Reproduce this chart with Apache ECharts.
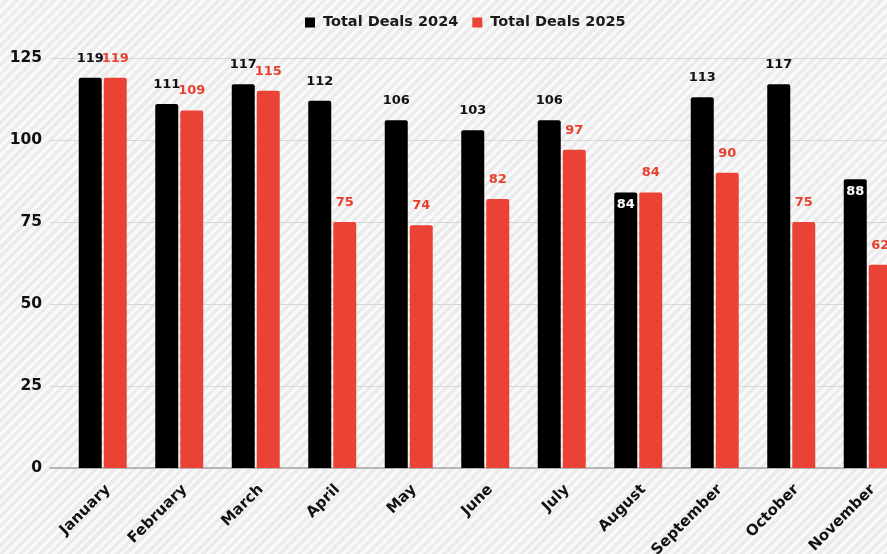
<!DOCTYPE html>
<html>
<head>
<meta charset="utf-8">
<script src="https://cdn.jsdelivr.net/npm/echarts@6/dist/echarts.min.js"></script>
<style>
  html, body { margin: 0; padding: 0; }
  #chart {
    width: 887px; height: 554px;
    background: repeating-linear-gradient(135deg, #f9f9f9 0px, #f9f9f9 3.4px, #ebebeb 3.4px, #ebebeb 6.8px);
  }
</style>
</head>
<body>
<div id="chart"></div>
<script>
const categories = ['January', 'February', 'March', 'April', 'May', 'June', 'July', 'August', 'September', 'October', 'November'];
const deals2024 = [119, 111, 117, 112, 106, 103, 106, 84, 113, 117, 88];
const deals2025 = [119, 109, 115, 75, 74, 82, 97, 84, 90, 75, 62];
const insideLabelIdx2024 = [7, 10];
const yTicks = { min: 0, max: 125, interval: 25 };

const FONT = 'DejaVu Sans';
const RED = '#ea4335';

const data2024 = deals2024.map((v, i) => insideLabelIdx2024.includes(i)
  ? { value: v, label: { position: 'insideTop', color: '#ffffff', distance: 6 } }
  : v);

const chart = echarts.init(document.getElementById('chart'), null, { renderer: 'canvas' });
chart.setOption({
  backgroundColor: 'transparent',
  animation: false,
  legend: {
    left: 300, top: 10,
    itemWidth: 10, itemHeight: 10, itemGap: 14,
    icon: 'rect',
    textStyle: { fontFamily: FONT, fontWeight: 'bold', fontSize: 14.5, color: '#1a1a1a', padding: [0, 0, 0, 3] },
    data: ['Total Deals 2024', 'Total Deals 2025']
  },
  grid: [
    { left: 64.5, width: 841.5, top: 58, bottom: 86, containLabel: false, outerBoundsMode: 'none' },
    { left: 50, width: 900, top: 58, bottom: 86, containLabel: false, outerBoundsMode: 'none' }
  ],
  xAxis: [
    {
      type: 'category', gridIndex: 0, data: categories,
      axisLine: { show: false }, axisTick: { show: false },
      axisLabel: { rotate: 45, margin: 14, verticalAlign: 'top', interval: 0, fontFamily: FONT, fontWeight: 'bold', fontSize: 15, color: '#111' }
    },
    {
      type: 'value', gridIndex: 1, min: 0, max: 1,
      axisLine: { show: true, lineStyle: { color: '#a8a8a8', width: 1.5 } },
      axisTick: { show: false }, axisLabel: { show: false }, splitLine: { show: false }
    }
  ],
  yAxis: [
    {
      type: 'value', gridIndex: 0, min: yTicks.min, max: yTicks.max, interval: yTicks.interval,
      show: false, splitLine: { show: false }
    },
    {
      type: 'value', gridIndex: 1, min: yTicks.min, max: yTicks.max, interval: yTicks.interval,
      axisLine: { show: false }, axisTick: { show: false },
      axisLabel: { margin: 8, fontFamily: FONT, fontWeight: 'bold', fontSize: 15.5, color: '#111' },
      splitLine: { show: true, lineStyle: { color: '#d6d6d6', width: 1 } }
    }
  ],
  series: [
    {
      name: 'Total Deals 2024', type: 'bar', xAxisIndex: 0, yAxisIndex: 0,
      data: data2024, barWidth: 23, barGap: '8.7%',
      itemStyle: { color: '#000000', borderRadius: [2, 2, 0, 0] },
      label: { show: true, position: 'top', distance: 13, fontFamily: FONT, fontWeight: 'bold', fontSize: 13, color: '#111' },
      z: 3
    },
    {
      name: 'Total Deals 2025', type: 'bar', xAxisIndex: 0, yAxisIndex: 0,
      data: deals2025, barWidth: 23, barGap: '8.7%',
      itemStyle: { color: RED, borderRadius: [2, 2, 0, 0] },
      label: { show: true, position: 'top', distance: 13, fontFamily: FONT, fontWeight: 'bold', fontSize: 13, color: '#e8402f' },
      z: 4
    }
  ]
});
</script>
</body>
</html>
